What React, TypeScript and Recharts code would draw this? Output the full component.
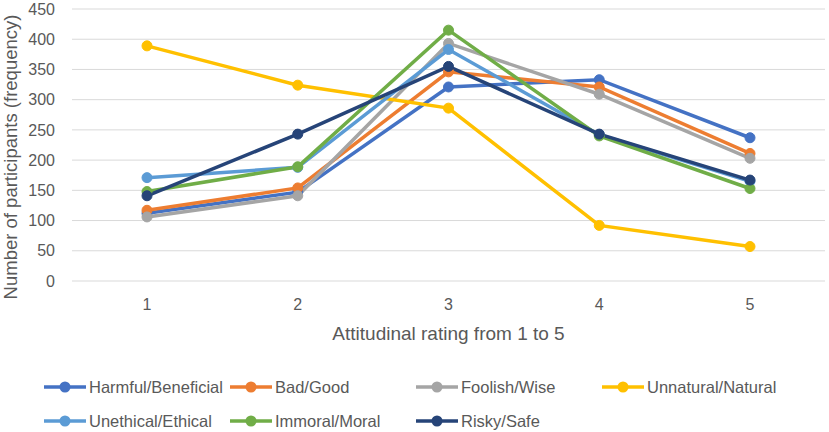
import React from 'react';
import { LineChart, Line, XAxis, YAxis, CartesianGrid, Legend } from 'recharts';

const categories = ['1', '2', '3', '4', '5'];
const yTicks = [0, 50, 100, 150, 200, 250, 300, 350, 400, 450];

const harmfulBeneficial = [112, 147, 321, 333, 237];
const badGood = [117, 154, 346, 321, 211];
const foolishWise = [106, 141, 393, 309, 203];
const unnaturalNatural = [389, 324, 286, 92, 57];
const unethicalEthical = [171, 188, 383, 242, 165];
const immoralMoral = [148, 189, 415, 240, 153];
const riskySafe = [141, 243, 355, 243, 167];

const series = [
  { key: 'Harmful/Beneficial', values: harmfulBeneficial, color: '#4472C4' },
  { key: 'Bad/Good', values: badGood, color: '#ED7D31' },
  { key: 'Foolish/Wise', values: foolishWise, color: '#A5A5A5' },
  { key: 'Unnatural/Natural', values: unnaturalNatural, color: '#FFC000' },
  { key: 'Unethical/Ethical', values: unethicalEthical, color: '#5B9BD5' },
  { key: 'Immoral/Moral', values: immoralMoral, color: '#70AD47' },
  { key: 'Risky/Safe', values: riskySafe, color: '#264478' },
];

const data = categories.map((c, i) => {
  const row: any = { rating: c };
  series.forEach((s) => {
    row[s.key] = s.values[i];
  });
  return row;
});

const font = '"Liberation Sans", Arial, sans-serif';
const textColor = '#595959';

// keep Excel's series order instead of the sorted payload
const renderLegend = () => (
  <div
    style={{
      height: 80,
      boxSizing: 'border-box',
      paddingTop: 26,
      paddingLeft: 44,
      display: 'grid',
      gridTemplateColumns: 'repeat(4, 186px)',
      gridAutoRows: '34px',
      fontFamily: font,
      fontSize: 16.5,
      color: textColor,
    }}
  >
    {series.map((s) => (
      <div key={s.key} style={{ display: 'flex', alignItems: 'center', whiteSpace: 'nowrap', height: 18 }}>
        <svg width={42} height={14} style={{ marginRight: 3, flexShrink: 0 }}>
          <line x1={0} y1={7} x2={42} y2={7} stroke={s.color} strokeWidth={3.5} />
          <circle cx={21} cy={7} r={5.5} fill={s.color} />
        </svg>
        <span>{s.key}</span>
      </div>
    ))}
  </div>
);

export default function App() {
  return (
    <div style={{ position: 'absolute', left: 0, top: 0, background: '#fff' }}>
      <LineChart
        width={829}
        height={432}
        data={data}
        margin={{ top: 9, right: 4, bottom: 0, left: 0 }}
      >
        <CartesianGrid horizontal vertical={false} stroke="#D9D9D9" strokeWidth={1} />
        <XAxis
          dataKey="rating"
          axisLine={false}
          tickLine={false}
          tickMargin={12}
          height={71}
          padding={{ left: 75, right: 75 }}
          tick={{ fill: textColor, fontSize: 16, fontFamily: font }}
          label={{
            value: 'Attitudinal rating from 1 to 5',
            position: 'insideBottom',
            offset: 12,
            fill: textColor,
            fontSize: 19,
            fontFamily: font,
          }}
        />
        <YAxis
          width={72}
          domain={[0, 450]}
          ticks={yTicks}
          interval={0}
          axisLine={false}
          tickLine={false}
          tickMargin={11}
          tick={{ fill: textColor, fontSize: 16, fontFamily: font }}
          label={{
            value: 'Number of participants (frequency)',
            angle: -90,
            position: 'insideLeft',
            offset: 10,
            dy: 12,
            fill: textColor,
            fontSize: 18.5,
            fontFamily: font,
            style: { textAnchor: 'middle' },
          }}
        />
        {series.map((s) => (
          <Line
            key={s.key}
            type="linear"
            dataKey={s.key}
            stroke={s.color}
            strokeWidth={3.5}
            dot={{ r: 5, fill: s.color, stroke: s.color, strokeWidth: 1 }}
            activeDot={false}
            isAnimationActive={false}
          />
        ))}
        <Legend verticalAlign="bottom" align="left" content={renderLegend} />
      </LineChart>
    </div>
  );
}
